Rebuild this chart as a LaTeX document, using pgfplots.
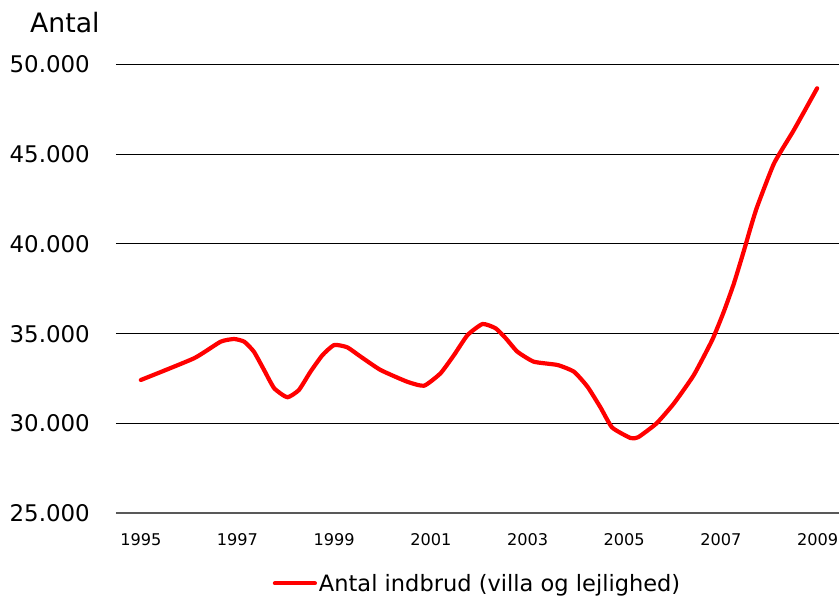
\documentclass[border=0pt]{standalone}
\usepackage{fontspec}
\setmainfont{DejaVu Sans}
\usepackage{pgfplots}
\pgfplotsset{compat=1.18}
\begin{document}
\begin{tikzpicture}
\begin{axis}[
  name=ax,
  scale only axis,
  width=723bp, height=449bp,
  xmin=1994.487, xmax=2009.443,
  ymin=25000, ymax=50000,
  scaled ticks=false,
  axis x line*=bottom, axis y line*=left,
  y axis line style={draw=none},
  x axis line style={-, black!65, line width=1.8bp},
  tick style={draw=none},
  major tick length=0pt,
  ymajorgrids,
  grid style={black, line width=0.9bp},
  xtick={1995,1997,1999,2001,2003,2005,2007,2009},
  xticklabels={1995,1997,1999,2001,2003,2005,2007,2009},
  ytick={25000,30000,35000,40000,45000,50000},
  yticklabels={25.000,30.000,35.000,40.000,45.000,50.000},
  xticklabel style={inner sep=0pt, anchor=north, yshift=-20bp, font=\fontsize{16.2}{19}\selectfont},
  yticklabel style={inner sep=0pt, anchor=east, xshift=-26bp, font=\fontsize{23}{27}\selectfont},
  legend style={at={(0.5,0)}, anchor=center, yshift=-70bp, draw=none, fill=none,
    font=\fontsize{22.6}{26}\selectfont, inner sep=0pt},
  legend cell align=left,
  legend image code/.code={\draw[#1] (0bp,0bp) -- (40bp,0bp);},
]
\addplot[red, line width=4.2bp, smooth, tension=0.3, line join=round, line cap=round] coordinates {
(1995.00,32422) (1996.10,33630) (1996.65,34554) (1996.93,34704) (1997.14,34554)
(1997.34,33998) (1997.55,32979) (1997.76,31960) (1998.03,31459) (1998.27,31865)
(1998.51,32884) (1998.76,33814) (1999.00,34371) (1999.27,34243) (1999.55,33719)
(1999.96,32979) (2000.51,32327) (2000.86,32104) (2001.20,32795) (2001.48,33814)
(2001.76,34927) (2002.07,35540) (2002.34,35300) (2002.55,34744) (2002.79,33998)
(2003.13,33441) (2003.62,33257) (2003.96,32884) (2004.24,32049) (2004.51,30891)
(2004.75,29777) (2005.13,29192) (2005.29,29237) (2005.67,30011) (2006.03,31125)
(2006.44,32700) (2006.82,34649) (2007.06,36225) (2007.27,37806) (2007.48,39660)
(2007.61,40868) (2007.75,42071) (2008.10,44488) (2008.51,46342) (2008.99,48664)
};
\addlegendentry{Antal indbrud (villa og lejlighed)}
\end{axis}
\node[anchor=base west, inner sep=0pt, font=\fontsize{26.8}{31}\selectfont] at ([xshift=-86bp,yshift=32bp]ax.north west) {Antal};
\pgfresetboundingbox
\path ([xshift=-116bp,yshift=-83.7bp]ax.south west) rectangle ([xshift=1bp,yshift=64.3bp]ax.north east);
\end{tikzpicture}
\end{document}
